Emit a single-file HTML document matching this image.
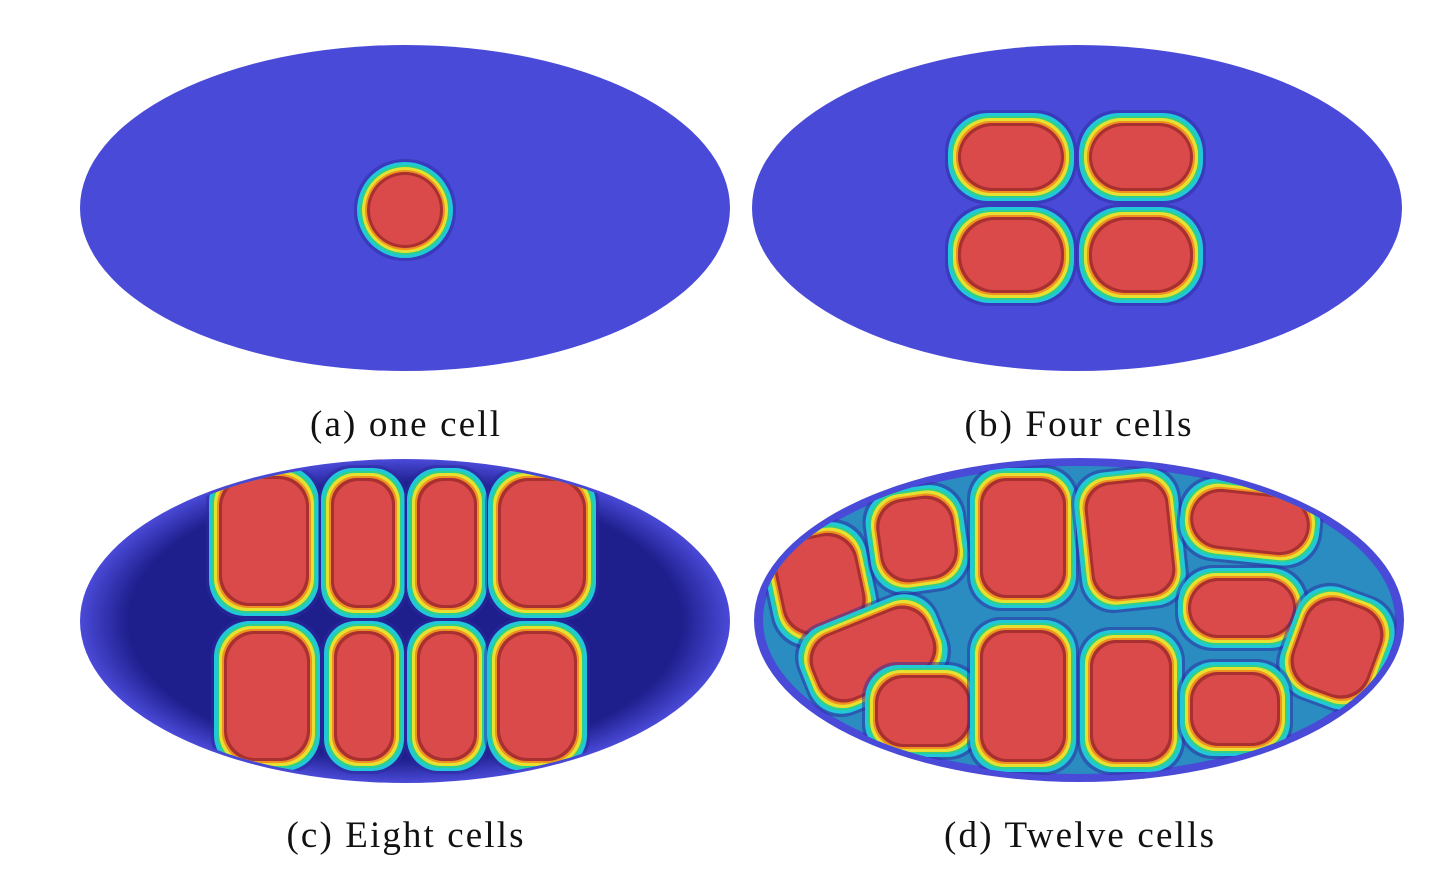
<!DOCTYPE html>
<html>
<head>
<meta charset="utf-8">
<style>
  html,body{margin:0;padding:0;background:#fff;}
  svg{display:block;}
  text{font-family:"Liberation Serif",serif;font-size:37px;fill:#111;}
</style>
</head>
<body>
<svg id="fig" width="1456" height="882" viewBox="0 0 1456 882" xmlns="http://www.w3.org/2000/svg">
  <defs>
    <radialGradient id="darkIn" cx="50%" cy="50%" r="50%">
      <stop offset="0.85" stop-color="#1e1e8c"/>
      <stop offset="1" stop-color="#4a4ad8"/>
    </radialGradient>
    <clipPath id="clipC"><ellipse cx="405" cy="621" rx="322" ry="159"/></clipPath>
    <clipPath id="clipD"><ellipse cx="1079" cy="620" rx="318" ry="156"/></clipPath>
  </defs>
  <ellipse cx="405" cy="208" rx="325" ry="163" fill="#4a4ad8"/>
  <ellipse cx="1077" cy="208" rx="325" ry="163" fill="#4a4ad8"/>
  <ellipse cx="405" cy="621" rx="325" ry="162" fill="url(#darkIn)"/>
  <ellipse cx="1079" cy="620" rx="325" ry="162" fill="#4a4ad8"/>
  <ellipse cx="1079" cy="620" rx="316" ry="154" fill="#2a8cc0"/>
  <g id="cellsAB"></g>
  <g id="cellsC" clip-path="url(#clipC)"></g>
  <g id="cellsD" clip-path="url(#clipD)"></g>
  <text x="405" y="436" text-anchor="middle" textLength="190" lengthAdjust="spacing">(a) one cell</text>
  <text x="1078" y="436" text-anchor="middle" textLength="227" lengthAdjust="spacing">(b) Four cells</text>
  <text x="405" y="847" text-anchor="middle" textLength="237" lengthAdjust="spacing">(c) Eight cells</text>
  <text x="1079" y="847" text-anchor="middle" textLength="270" lengthAdjust="spacing">(d) Twelve cells</text>
</svg>
<script>
// cell boxes [x, y, w, h, cornerRadius, rotation]
const cellsA = [[357,162,96,96,48,0]];
const cellsB = [[948,113,126,88,40,0],[1079,113,124,88,40,0],[948,207,126,96,42,0],[1079,207,124,96,42,0]];
const cellsC = [[209,466,110,150,36,0],[321,468,84,150,32,0],[407,468,80,150,32,0],[488,468,108,150,36,0],
                [214,621,106,150,36,0],[324,621,80,150,32,0],[407,621,80,150,32,0],[487,621,100,150,36,0]];
const cellsD = [[768,525,104,118,36,-12],[868,487,98,104,34,-8],[970,468,106,140,32,0],[1078,470,104,138,32,-6],
                [1180,482,140,80,36,6],[1178,568,128,80,36,0],[1286,590,102,116,36,20],[800,608,146,92,34,-22],
                [865,665,116,92,34,0],[970,620,106,152,32,0],[1080,630,102,142,32,0],[1180,662,110,94,34,0]];
const layers = [[-3,'#2a2aa0'],[0,'#20c8d8'],[3,'#2fd08a'],[5,'#e8e030'],[8,'#f09020'],[10,'#a83030'],[13,'#da4a4a']];
const ns = 'http://www.w3.org/2000/svg';
function drawCells(list, prefix, target){
  const g = document.getElementById(target);
  list.forEach((c,i)=>{
    const grp = document.createElementNS(ns,'g');
    
    
    const cx = c[0]+c[2]/2, cy = c[1]+c[3]/2;
    if (c[5]) grp.setAttribute('transform','rotate('+c[5]+' '+cx+' '+cy+')');
    layers.forEach(l=>{
      const r = document.createElementNS(ns,'rect');
      const d = l[0];
      r.setAttribute('x', c[0]+d);
      r.setAttribute('y', c[1]+d);
      r.setAttribute('width', Math.max(1,c[2]-2*d));
      r.setAttribute('height', Math.max(1,c[3]-2*d));
      const rr = Math.max(2,c[4]-d*0.6);
      r.setAttribute('rx', rr);
      r.setAttribute('ry', rr);
      r.setAttribute('fill', l[1]);
      if (d < 0) r.setAttribute('opacity', '0.5');
      grp.appendChild(r);
    });
    g.appendChild(grp);
  });
}
drawCells(cellsA,'a','cellsAB');
drawCells(cellsB,'b','cellsAB');
drawCells(cellsC,'c','cellsC');
drawCells(cellsD,'d','cellsD');
</script>
</body>
</html>
